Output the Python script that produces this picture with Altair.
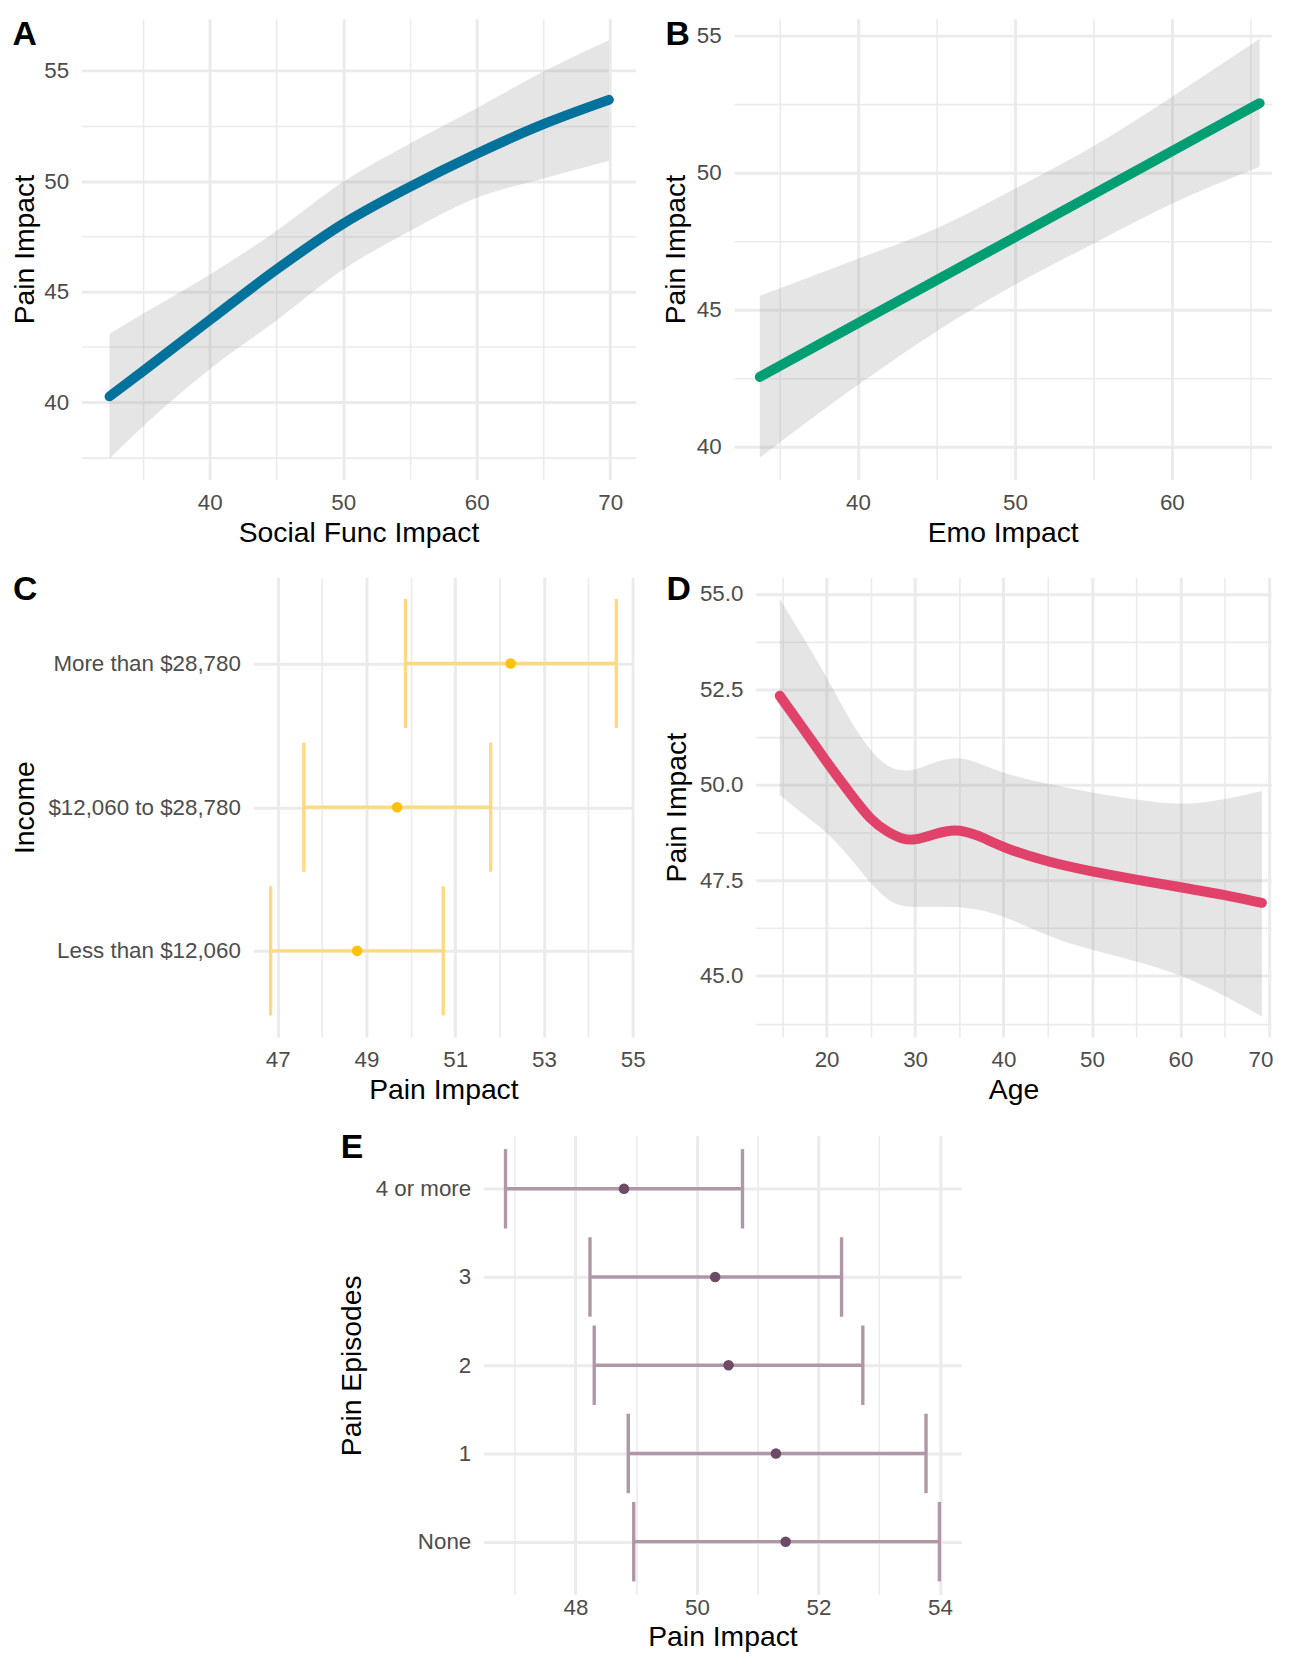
import altair as alt
import pandas as pd

FONT = "Liberation Sans"
GRID = "#EBEBEB"
LABEL_COLOR = "#4D4D4D"
TICK_FS = 22.5
TITLE_FS = 28.5
TAG_FS = 34

# ---------------- data ----------------
# A: Social Func Impact vs Pain Impact (smooth fit + CI)
a_x = [32.5, 35, 40, 45, 50, 55, 60, 65, 69.9]
a_fit = [40.26, 41.4, 43.71, 46.0, 48.07, 49.74, 51.24, 52.58, 53.68]
a_lo = [37.45, 38.9, 41.49, 43.7, 46.0, 47.75, 49.25, 50.12, 50.92]
a_hi = [43.1, 44.0, 45.77, 47.75, 49.97, 51.71, 53.3, 54.96, 56.38]

# B: Emo Impact vs Pain Impact (straight fit, curved CI)
b_line_x = [33.74, 65.6]
b_line_y = [42.54, 52.52]
b_x = [33.74, 40, 45, 50, 55, 60, 65.6]
b_lo = [39.6, 42.25, 44.2, 45.9, 47.4, 48.85, 50.2]
b_hi = [45.5, 46.85, 47.95, 49.4, 50.95, 52.75, 54.87]

# C: Income categories
c_cat = ["More than $28,780", "$12,060 to $28,780", "Less than $12,060"]
c_mid = [52.25, 49.69, 48.79]
c_lo = [49.88, 47.59, 46.84]
c_hi = [54.63, 51.8, 50.73]

# D: Age vs Pain Impact
d_x = [14.7, 17, 20, 22.5, 25, 27, 28.6, 30, 32, 34.5, 37, 40, 45, 50, 55, 60, 65, 69.2]
d_fit = [52.33, 51.59, 50.6, 49.82, 49.06, 48.75, 48.57, 48.55, 48.7, 48.86, 48.7, 48.35,
         47.98, 47.73, 47.52, 47.32, 47.12, 46.91]
d_lo = [49.74, 49.29, 48.78, 48.14, 47.41, 46.95, 46.81, 46.81, 46.81, 46.81, 46.75, 46.58,
        46.03, 45.67, 45.39, 45.04, 44.49, 43.94]
d_hi = [54.87, 53.99, 52.83, 51.73, 50.85, 50.45, 50.36, 50.38, 50.57, 50.75, 50.6, 50.29,
        50.02, 49.79, 49.61, 49.45, 49.61, 49.84]

# E: Pain Episodes categories
e_cat = ["4 or more", "3", "2", "1", "None"]
e_mid = [48.8, 50.3, 50.52, 51.3, 51.46]
e_lo = [46.85, 48.24, 48.31, 48.87, 48.96]
e_hi = [50.75, 52.38, 52.73, 53.77, 53.99]

# tick values (major + minor grid)
a_xticks = [35, 40, 45, 50, 55, 60, 65, 70]
a_yticks = [37.5, 40, 42.5, 45, 47.5, 50, 52.5, 55]
b_xticks = [35, 40, 45, 50, 55, 60, 65]
b_yticks = [40, 42.5, 45, 47.5, 50, 52.5, 55]
c_xticks = [47, 48, 49, 50, 51, 52, 53, 54, 55]
d_xticks = [15, 20, 25, 30, 35, 40, 45, 50, 55, 60, 65, 70]
d_yticks = [43.75, 45, 46.25, 47.5, 48.75, 50, 51.25, 52.5, 53.75, 55]
e_xticks = [47, 48, 49, 50, 51, 52, 53, 54]

COL_A = "#00729B"
COL_B = "#009E73"
COL_D = "#E0426A"
C_PT, C_BAR = "#FFC20A", "#FFD981"
E_PT, E_BAR = "#6E4B64", "#B097A8"

MAJOR_W, MINOR_W = 3.0, 1.6


def common_axis(**kw):
    base = dict(
        domain=False, ticks=False, grid=True, gridColor=GRID,
        labelFont=FONT, labelFontSize=TICK_FS, labelColor=LABEL_COLOR,
        labelOverlap=False, labelFlush=False, labelLimit=0,
        titleFont=FONT, titleFontSize=TITLE_FS, titleColor="black",
        titleFontWeight="normal",
    )
    base.update(kw)
    return alt.Axis(**base)


def x_axis(title, values, major, width, title_y=62.5, fmt=".0f", label_pad=12, **extra):
    return common_axis(
        title=title, values=values, format=fmt,
        labelExpr=f"({major}) ? datum.label : ''",
        gridWidth={"condition": {"test": major, "value": MAJOR_W}, "value": MINOR_W},
        labelPadding=label_pad,
        titleX=width / 2, titleY=title_y, titleAngle=0,
        titleAlign="center", titleBaseline="alphabetic",
        **extra,
    )


def y_axis(title, values, major, height, title_x, fmt=".0f"):
    return common_axis(
        title=title, values=values, format=fmt,
        labelExpr=f"({major}) ? datum.label : ''",
        gridWidth={"condition": {"test": major, "value": MAJOR_W}, "value": MINOR_W},
        labelPadding=13,
        titleX=title_x, titleY=height / 2, titleAngle=270,
        titleAlign="center", titleBaseline="alphabetic",
    )


def y_axis_cat(title, height, title_x):
    return common_axis(
        title=title, gridWidth=MAJOR_W, labelPadding=13,
        titleX=title_x, titleY=height / 2, titleAngle=270,
        titleAlign="center", titleBaseline="alphabetic",
    )


def tag(letter, x, y):
    return alt.Chart(pd.DataFrame({"tag": [letter]})).mark_text(
        font=FONT, fontSize=TAG_FS, fontWeight="bold", color="black",
        align="left", baseline="alphabetic",
    ).encode(text="tag:N", x=alt.value(x), y=alt.value(y))


def smooth_panel(xs, lo, hi, line_x, line_y, color, xdom, ydom, xaxis, yaxis, w, h,
                 letter, tx, ty, interp="monotone"):
    band_df = pd.DataFrame({"x": xs, "lo": lo, "hi": hi})
    line_df = pd.DataFrame({"x": line_x, "fit": line_y})
    xs_ = alt.Scale(domain=xdom, nice=False, zero=False)
    ys_ = alt.Scale(domain=ydom, nice=False, zero=False)
    band = alt.Chart(band_df).mark_area(color="#999999", opacity=0.25, interpolate=interp).encode(
        x=alt.X("x:Q", scale=xs_, axis=xaxis),
        y=alt.Y("lo:Q", scale=ys_, axis=yaxis),
        y2="hi:Q",
    )
    line = alt.Chart(line_df).mark_line(color=color, strokeWidth=10, strokeCap="round",
                                        interpolate=interp).encode(
        x=alt.X("x:Q", scale=xs_, axis=xaxis),
        y=alt.Y("fit:Q", scale=ys_, axis=yaxis),
    )
    return alt.layer(band, line, tag(letter, tx, ty)).properties(width=w, height=h)


def interval_panel(cats, mid, lo, hi, pt_col, bar_col, xdom, xaxis, yaxis, w, h, cap, letter, tx, ty):
    df = pd.DataFrame({"cat": cats, "lo": lo, "mid": mid, "hi": hi})
    xs = alt.Scale(domain=xdom, nice=False, zero=False)
    Y = alt.Y("cat:N", sort=cats, scale=alt.Scale(type="point", padding=0.6), axis=yaxis)
    bar = alt.Chart(df).mark_rule(color=bar_col, strokeWidth=3.4).encode(
        x=alt.X("lo:Q", scale=xs, axis=xaxis), x2="hi:Q", y=Y)
    caps = alt.Chart(df).transform_fold(["lo", "hi"], as_=["end", "val"]).mark_tick(
        color=bar_col, thickness=3.4, size=cap, opacity=1).encode(
        x=alt.X("val:Q", scale=xs, axis=xaxis), y=Y)
    pt = alt.Chart(df).mark_circle(color=pt_col, size=113, opacity=1).encode(
        x=alt.X("mid:Q", scale=xs, axis=xaxis), y=Y)
    return alt.layer(bar, caps, pt, tag(letter, tx, ty)).properties(width=w, height=h)


def spacer():
    return alt.Chart(pd.DataFrame({"s": [0]})).mark_point(opacity=0, size=0.1).encode(
        x=alt.value(0.5), y=alt.value(0.5)).properties(width=1, height=1)


# ---------------- panels ----------------
WA, HA = 558, 464
chartA = smooth_panel(
    a_x, a_lo, a_hi, a_x, a_fit, COL_A, [30.4, 71.9], [36.5, 57.35],
    x_axis("Social Func Impact", a_xticks, "datum.value % 10 === 0", WA),
    y_axis("Pain Impact", a_yticks, "datum.value % 5 === 0", HA, -48),
    WA, HA, "A", -69.5, 26)

WB, HB = 541, 464
chartB = smooth_panel(
    b_x, b_lo, b_hi, b_line_x, b_line_y, COL_B, [32.1, 66.34], [38.8, 55.6],
    x_axis("Emo Impact", b_xticks, "datum.value % 10 === 0", WB),
    y_axis("Pain Impact", b_yticks, "datum.value % 5 === 0", HB, -50),
    WB, HB, "B", -69, 26)

WC, HC = 383, 463
chartC = interval_panel(
    c_cat, c_mid, c_lo, c_hi, C_PT, C_BAR, [46.45, 55.02],
    x_axis("Pain Impact", c_xticks, "datum.value % 2 === 1", WC, title_y=62),
    y_axis_cat("Income", HC, -221),
    WC, HC, 130, "C", -242, 22.5)

WD, HD = 519, 463
chartD = smooth_panel(
    d_x, d_lo, d_hi, d_x, d_fit, COL_D, [12.0, 70.25], [43.4, 55.43],
    x_axis("Age", d_xticks, "datum.value % 10 === 0", WD, title_y=62,
           labelFlush=8, labelFlushOffset=4),
    y_axis("Pain Impact", d_yticks, "datum.value % 2.5 === 0", HD, -71, fmt=".1f"),
    WD, HD, "D", -90, 22.5, interp="basis")

WE, HE = 481, 462
chartE = interval_panel(
    e_cat, e_mid, e_lo, e_hi, E_PT, E_BAR, [46.49, 54.35],
    x_axis("Pain Impact", e_xticks, "datum.value % 2 === 0", WE, title_y=50.8, label_pad=2.3),
    y_axis_cat("Pain Episodes", HE, -124),
    WE, HE, 80, "E", -144, 21.8)

row1 = alt.hconcat(spacer(), alt.hconcat(chartA, chartB, spacing=26.2), spacing=0)
row2 = alt.hconcat(spacer(), alt.hconcat(chartC, chartD, spacing=17.1), spacing=0)
row3 = alt.hconcat(spacer(), chartE, spacing=329)

chart = alt.vconcat(row1, row2, row3, spacing=25.5).properties(
    padding={"left": 2, "top": 4, "right": 0, "bottom": 0.4}
).configure(font=FONT).configure_view(stroke="transparent", strokeWidth=0)

chart.save("out.html", embed_options={"renderer": "svg", "actions": False})
